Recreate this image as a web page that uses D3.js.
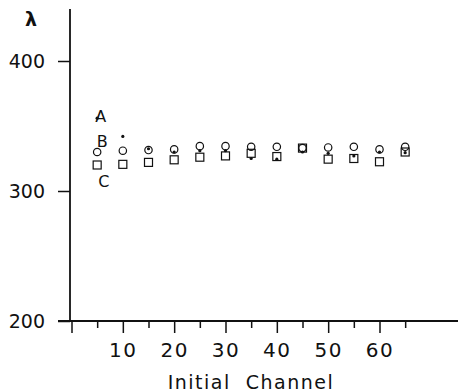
<!DOCTYPE html>
<html>
<head>
<meta charset="utf-8">
<script src="https://cdn.jsdelivr.net/npm/d3@7"></script>
<style>
  body { margin: 0; background: #fff; }
  svg { display: block; }
  text { font-family: "DejaVu Sans", sans-serif; fill: #111; }
</style>
</head>
<body>
<svg id="chart" width="458" height="392"></svg>
<script>
// data
const channels = [5, 10, 15, 20, 25, 30, 35, 40, 45, 50, 55, 60, 65];
const seriesA  = [356, 342, 332.5, 330, 331, 331, 325, 324.5, 330, 329, 327, 330, 329.5]; // dots
const seriesB  = [330, 331, 331.5, 332, 334.5, 334.5, 334, 334, 333, 333.5, 334, 332, 334]; // circles
const seriesC  = [320, 320.5, 322, 324, 326, 327, 329, 326.5, 333, 324.5, 325, 322.5, 330]; // squares
const yTicks      = [200, 300, 400];
const xMajorTicks = [0, 10, 20, 30, 40, 50, 60];
const xMinorTicks = [5, 15, 25, 35, 45, 55, 65];
const xLabelTicks = [10, 20, 30, 40, 50, 60];
const curveNames  = ['A', 'B', 'C'];

const svg = d3.select('#chart');
const x = d3.scaleLinear().domain([0, 75]).range([71.5, 456.5]);
const y = d3.scaleLinear().domain([200, 440]).range([321, 9]);

// ── axes ──
const axG = svg.append('g').attr('class', 'axes');

axG.append('g')
  .attr('transform', `translate(0,${y(200)})`)
  .call(d3.axisBottom(x).tickValues(xMinorTicks).tickSize(7).tickFormat(''));

const xAx = axG.append('g')
  .attr('transform', `translate(0,${y(200)})`)
  .call(d3.axisBottom(x).tickValues(xMajorTicks).tickSize(12)
    .tickFormat(d => xLabelTicks.includes(d) ? d : ''));

axG.append('g')
  .attr('transform', `translate(70,0)`)
  .call(d3.axisLeft(y).tickValues(yTicks).tickSize(12).tickPadding(13));

axG.selectAll('.domain').remove();
axG.selectAll('line').attr('stroke', '#111').attr('stroke-width', 1.5);
axG.selectAll('.tick text')
  .attr('font-size', 19).attr('fill', '#111')
  .style('font-family', '"DejaVu Sans", sans-serif');
xAx.selectAll('.tick text')
  .attr('y', 36).attr('dy', 0).attr('font-size', 20).attr('letter-spacing', 1.5);

// axis lines
axG.append('line').attr('x1', 70).attr('x2', 70).attr('y1', y(440)).attr('y2', y(200))
  .attr('stroke', '#111').attr('stroke-width', 1.8);
axG.append('line').attr('x1', 58).attr('x2', 458).attr('y1', y(200)).attr('y2', y(200))
  .attr('stroke', '#111').attr('stroke-width', 1.8);

// titles
svg.append('text').attr('x', 31).attr('y', 26).attr('text-anchor', 'middle')
  .attr('font-size', 19).attr('font-weight', 'bold').text('λ');
svg.append('text').attr('x', 251).attr('y', 389).attr('text-anchor', 'middle')
  .attr('font-size', 19).attr('letter-spacing', 1.5).attr('xml:space', 'preserve')
  .text('Initial  Channel');

// ── markers ──
const pts = arr => channels.map((c, i) => ({ c, v: arr[i] }));
const markG = svg.append('g').attr('class', 'marks');

markG.selectAll('.sq').data(pts(seriesC)).join('rect')
  .attr('class', 'sq')
  .attr('x', d => x(d.c) - 4).attr('y', d => y(d.v) - 4)
  .attr('width', 8).attr('height', 8)
  .attr('fill', '#fff').attr('stroke', '#111').attr('stroke-width', 1.2);

markG.selectAll('.ci').data(pts(seriesB)).join('circle')
  .attr('class', 'ci')
  .attr('cx', d => x(d.c)).attr('cy', d => y(d.v)).attr('r', 3.7)
  .attr('fill', 'none').attr('stroke', '#111').attr('stroke-width', 1.2);

markG.selectAll('.dot').data(pts(seriesA)).join('circle')
  .attr('class', 'dot')
  .attr('cx', d => x(d.c)).attr('cy', d => y(d.v)).attr('r', 1.6)
  .attr('fill', '#111');

// curve labels next to the first point of each series
const firstVals = { A: seriesA[0], B: seriesB[0], C: seriesC[0] };
const labelOff  = { A: [-2, 4], B: [-0.5, -5], C: [1, 22] };
svg.selectAll('.clabel').data(curveNames).join('text')
  .attr('class', 'clabel')
  .attr('x', d => x(channels[0]) + labelOff[d][0])
  .attr('y', d => y(firstVals[d]) + labelOff[d][1])
  .attr('font-size', 16)
  .text(d => d);
</script>
</body>
</html>
